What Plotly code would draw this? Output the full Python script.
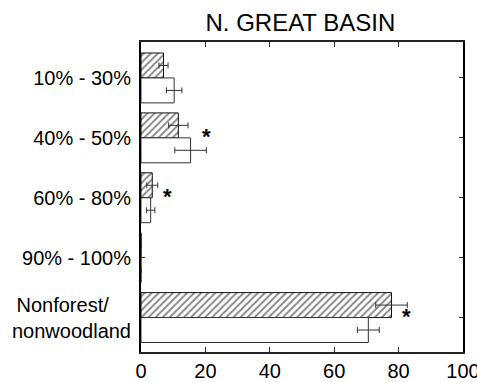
import plotly.graph_objects as go

categories = ["10% - 30%", "40% - 50%", "60% - 80%", "90% - 100%",
              "Nonforest/&nbsp;&nbsp;&nbsp;&nbsp;<br>nonwoodland"]
cat_pos = [0, 1, 2, 3, 4]
hatched_vals = [7.0, 11.6, 3.5, 0.0, 77.8]
hatched_err = [1.4, 3.0, 1.7, 0.0, 4.9]
open_vals = [10.3, 15.4, 3.0, 0.0, 70.6]
open_err = [2.4, 4.9, 1.3, 0.0, 3.4]
star_x = [20.4, 8.3, 82.3]
star_y = [0.98, 1.98, 3.98]
x_ticks = [0, 20, 40, 60, 80, 100]

FONT = "Arial, Liberation Sans, sans-serif"
EDGE = "#333333"

fig = go.Figure()
fig.add_trace(go.Bar(
    y=cat_pos, x=hatched_vals, orientation="h",
    marker=dict(color="white", line=dict(color="#111111", width=1),
                pattern=dict(shape="/", fgcolor="#111111", bgcolor="white",
                             size=5, solidity=0.4)),
    error_x=dict(type="data", array=hatched_err, visible=True,
                 color=EDGE, thickness=1, width=3),
    showlegend=False))
fig.add_trace(go.Bar(
    y=cat_pos, x=open_vals, orientation="h",
    marker=dict(color="white", line=dict(color=EDGE, width=1)),
    error_x=dict(type="data", array=open_err, visible=True,
                 color=EDGE, thickness=1, width=3),
    showlegend=False))

for sx, sy in zip(star_x, star_y):
    fig.add_annotation(x=sx, y=sy, text="<b>*</b>", showarrow=False,
                       font=dict(size=22, color="black", family=FONT),
                       xanchor="center", yanchor="middle")

fig.update_layout(
    width=477, height=382,
    margin=dict(l=141, r=14, t=42, b=30, autoexpand=False),
    paper_bgcolor="white", plot_bgcolor="white",
    barmode="group", bargap=0.167, bargroupgap=0,
    font=dict(family=FONT, color="black"),
    title=dict(text="N. GREAT BASIN", x=0.495, xref="paper",
               y=0.94, yref="container", yanchor="middle",
               font=dict(size=24, color="black", family=FONT)),
    xaxis=dict(range=[0, 100], tickvals=x_ticks, ticks="inside", ticklen=5,
               tickcolor=EDGE, showline=True, linecolor="#222222", linewidth=1.5,
               mirror="ticks", showgrid=False, zeroline=False, automargin=False,
               ticklabeloverflow="allow",
               tickfont=dict(size=20, color="black")),
    yaxis=dict(range=[4.575, -0.60], tickvals=cat_pos, ticktext=categories,
               ticks="inside", ticklen=4, tickcolor=EDGE,
               showline=True, linecolor="black", linewidth=2, mirror="ticks",
               showgrid=False, zeroline=False, ticklabelstandoff=4,
               automargin=False, ticklabeloverflow="allow",
               tickfont=dict(size=20, color="black")),
)

fig.write_html("out.html", config={"displayModeBar": False},
               post_script="document.body.style.margin='0';document.body.style.overflow='hidden';")
